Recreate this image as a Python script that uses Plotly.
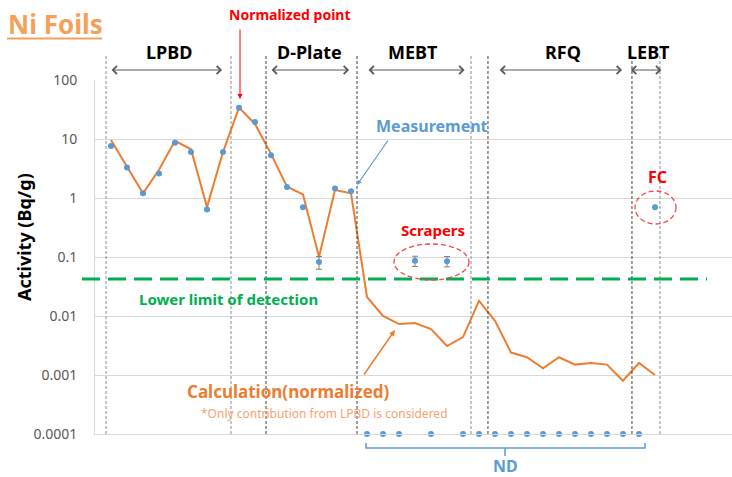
import math
import plotly.graph_objects as go

# ---------------- data ----------------
calc_idx = list(range(35))
calc = [9.6, 3.3, 1.2, 3.0, 9.3, 6.7, 0.7, 6.0, 34, 18, 5.6, 1.55, 1.15, 0.1, 1.37, 1.2,
        0.021, 0.010, 0.0073, 0.0076, 0.006, 0.0031, 0.0044, 0.018, 0.0083, 0.0024,
        0.002, 0.0013, 0.002, 0.0015, 0.0016, 0.0015, 0.0008, 0.0016, 0.001]

meas_idx = list(range(16))
meas = [7.6, 3.3, 1.2, 2.6, 8.6, 6.0, 0.64, 6.0, 34, 19.4, 5.3, 1.54, 0.7, 0.082, 1.45, 1.3]
meas_err = [0] * 13 + [0.02] + [0, 0]

scr_idx = [19, 21]
scr = [0.086, 0.085]
scr_err = [0.017, 0.017]

fc_idx = [34]
fc = [0.7]

nd_idx = [16, 17, 18, 20, 22, 23, 24, 25, 26, 27, 28, 29, 30, 31, 32, 33]
nd_val = [1e-4] * len(nd_idx)

lld = 0.0424

ytick_vals = [1e-4, 1e-3, 1e-2, 1e-1, 1, 10, 100]
ytick_text = ["0.0001", "0.001", "0.01", "0.1", "1", "10", "100"]

sections = ["LPBD", "D-Plate", "MEBT", "RFQ", "LEBT"]
sec_start = [-0.06, 9.94, 16.0, 24.2, 32.4]
sec_end = [6.94, 14.88, 22.1, 31.94, 34.4]
sec_label_x = [3.62, 12.4, 18.9, 28.25, 33.6]

boundaries = [-0.31, 7.5, 9.69, 15.375, 22.5, 23.56, 32.56, 34.31]
boundary_dark = [False, False, True, True, False, True, True, False]

# ---------------- layout helpers ----------------
W, H = 732, 477
ML, MR, MT, MB = 95, 0, 80, 43
PW, PH = W - ML - MR, H - MT - MB


def pxx(p):
    return (p - ML) / PW


def pxy(p):
    return (H - MB - p) / PH


FONT = "Noto Sans"
BLUE = "#5B9BD5"
ORANGE = "#ED7D31"
RED = "#FF0000"
GREEN = "#00B050"

fig = go.Figure()

fig.add_trace(go.Scatter(
    x=calc_idx, y=calc, mode="lines",
    line=dict(color=ORANGE, width=2), showlegend=False, cliponaxis=False))

fig.add_trace(go.Scatter(
    x=meas_idx, y=meas, mode="markers",
    marker=dict(color=BLUE, size=6),
    error_y=dict(type="data", array=meas_err, color="#7F7F7F", thickness=1, width=3),
    showlegend=False))

fig.add_trace(go.Scatter(
    x=scr_idx, y=scr, mode="markers",
    marker=dict(color=BLUE, size=6),
    error_y=dict(type="data", array=scr_err, color="#7F7F7F", thickness=1, width=3),
    showlegend=False))

fig.add_trace(go.Scatter(
    x=fc_idx, y=fc, mode="markers",
    marker=dict(color=BLUE, size=6), showlegend=False))

fig.add_trace(go.Scatter(
    x=nd_idx, y=nd_val, mode="markers",
    marker=dict(color=BLUE, size=6), showlegend=False, cliponaxis=False))

shapes = []
# vertical section boundaries
for bx, dark in zip(boundaries, boundary_dark):
    shapes.append(dict(type="line", xref="x", yref="paper", x0=bx, x1=bx,
                       y0=0, y1=pxy(56),
                       line=dict(color="#404040" if dark else "#8C8C8C", width=1,
                                 dash="3px,2px")))

# lower limit of detection
lld_paper = (math.log10(lld) + 4) / 6
shapes.append(dict(type="line", xref="paper", yref="paper", x0=pxx(82), x1=pxx(707),
                   y0=lld_paper, y1=lld_paper,
                   line=dict(color=GREEN, width=3, dash="18px,8px")))

# ellipses
shapes.append(dict(type="circle", xref="paper", yref="paper",
                   x0=pxx(394), x1=pxx(469), y0=pxy(280), y1=pxy(244),
                   line=dict(color="#F04848", width=1.3, dash="5px,3px")))
shapes.append(dict(type="circle", xref="paper", yref="paper",
                   x0=pxx(635), x1=pxx(676), y0=pxy(224), y1=pxy(191),
                   line=dict(color="#F04848", width=1.3, dash="5px,3px")))

# ND bracket
bl, br, by, bt, bc, bb = pxx(366), pxx(645), pxy(448), pxy(443), pxx(505), pxy(456)
shapes.append(dict(type="path", xref="paper", yref="paper",
                   path=f"M {bl},{bt} L {bl},{by} L {br},{by} L {br},{bt} M {bc},{by} L {bc},{bb}",
                   line=dict(color=BLUE, width=1.5)))

# title underline
shapes.append(dict(type="line", xref="paper", yref="paper", x0=pxx(7), x1=pxx(102),
                   y0=pxy(38.5), y1=pxy(38.5), line=dict(color="#F5A15B", width=2)))

annotations = []
# section arrows and labels
for name, s, e, lx in zip(sections, sec_start, sec_end, sec_label_x):
    annotations.append(dict(xref="x", yref="paper", x=e, y=pxy(70), axref="x", ayref="pixel",
                            ax=s, ay=0, text="", showarrow=True, arrowside="end+start",
                            arrowhead=4, startarrowhead=4, arrowsize=1.6, startarrowsize=1.6,
                            arrowwidth=1, arrowcolor="#595959"))
    annotations.append(dict(xref="x", yref="paper", x=lx, y=pxy(52), text=f"<b>{name}</b>",
                            showarrow=False, xanchor="center", yanchor="middle",
                            font=dict(family=FONT, size=18, color="#000000")))


def label(text, x, y, size, color, bold=True):
    annotations.append(dict(xref="paper", yref="paper", x=pxx(x), y=pxy(y),
                            text=f"<b>{text}</b>" if bold else text, showarrow=False,
                            xanchor="center", yanchor="middle",
                            font=dict(family=FONT, size=size, color=color)))


label("Ni Foils", 55, 24, 26, "#F5A15B")
label("Normalized point", 290, 15, 14, RED)
label("Measurement", 432, 126, 16, BLUE)
label("FC", 657, 177, 16, RED)
label("Scrapers", 433, 230, 15, RED)
label("Lower limit of detection", 228, 299, 15, GREEN)
label("Calculation(normalized)", 288, 391, 17, ORANGE)
label("*Only contribution from LPBD is considered", 324, 413, 12, "#F4A46E", bold=False)
label("ND", 505, 466, 16, BLUE)

# y axis title
annotations.append(dict(xref="paper", yref="paper", x=pxx(24), y=pxy(237),
                        text="<b>Activity (Bq/g)</b>", textangle=-90, showarrow=False,
                        xanchor="center", yanchor="middle",
                        font=dict(family=FONT, size=18, color="#000000")))

# arrows
annotations.append(dict(xref="paper", yref="paper", x=pxx(240), y=pxy(99), ax=0, ay=-71,
                        text="", showarrow=True, arrowhead=2, arrowsize=1, arrowwidth=1,
                        arrowcolor=RED))
annotations.append(dict(xref="paper", yref="paper", x=pxx(357), y=pxy(185), ax=32, ay=-46,
                        text="", showarrow=True, arrowhead=2, arrowsize=0.8, arrowwidth=1.2,
                        arrowcolor=BLUE))
annotations.append(dict(xref="paper", yref="paper", x=pxx(395), y=pxy(330), ax=-32, ay=46,
                        text="", showarrow=True, arrowhead=2, arrowsize=0.8, arrowwidth=1.5,
                        arrowcolor=ORANGE))

fig.update_layout(
    width=W, height=H,
    margin=dict(l=ML, r=MR, t=MT, b=MB),
    paper_bgcolor="white", plot_bgcolor="white",
    font=dict(family=FONT),
    showlegend=False,
    shapes=shapes,
    annotations=annotations,
    xaxis=dict(range=[-1, (W - 111) / 16], showgrid=False, zeroline=False,
               showticklabels=False, ticks="", showline=True, linecolor="#D9D9D9", linewidth=1),
    yaxis=dict(type="log", range=[-4, 2], tickvals=ytick_vals, ticktext=ytick_text,
               showgrid=True, gridcolor="#D9D9D9", gridwidth=1, zeroline=False,
               showline=True, linecolor="#D9D9D9", linewidth=1, ticks="",
               ticklabelstandoff=14,
               tickfont=dict(family=FONT, size=14, color="#595959")),
)

fig.write_html("out.html")
